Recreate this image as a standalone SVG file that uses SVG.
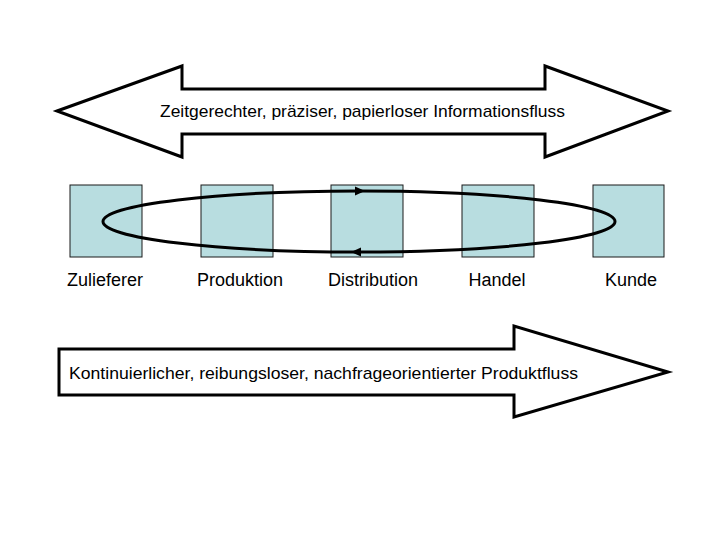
<svg xmlns="http://www.w3.org/2000/svg" width="720" height="540" viewBox="0 0 720 540">
<style>
.bg{fill:#ffffff}
.arrow{fill:#ffffff;stroke:#000000;stroke-width:3;stroke-linejoin:miter}
.box{fill:#b8dde0;stroke:#1a1a1a;stroke-width:1}
.lbl{font-family:"Liberation Sans",Arial,sans-serif;font-size:18px;fill:#000000}
.atext{font-family:"Liberation Sans",Arial,sans-serif;font-size:17px;fill:#000000}
.loop{fill:none;stroke:#000000;stroke-width:3}
.head{fill:#000000}
</style>
<rect class="bg" x="0" y="0" width="720" height="540"/>
<g id="info-arrow">
<path class="arrow" d="M57,111 L182,66 L182,89 L545,89 L545,66 L668,111 L545,157 L545,134 L182,134 L182,157 Z"/>
<text class="atext" x="160" y="117" textLength="405" lengthAdjust="spacingAndGlyphs">Zeitgerechter, präziser, papierloser Informationsfluss</text>
</g>
<g id="zulieferer">
<rect class="box" x="70" y="185" width="72" height="72"/>
<text class="lbl" x="105" y="286" text-anchor="middle">Zulieferer</text>
</g>
<g id="produktion">
<rect class="box" x="201" y="185" width="72" height="72"/>
<text class="lbl" x="240" y="286" text-anchor="middle">Produktion</text>
</g>
<g id="distribution">
<rect class="box" x="331" y="185" width="72" height="72"/>
<text class="lbl" x="373" y="286" text-anchor="middle">Distribution</text>
</g>
<g id="handel">
<rect class="box" x="462" y="185" width="72" height="72"/>
<text class="lbl" x="497" y="286" text-anchor="middle">Handel</text>
</g>
<g id="kunde">
<rect class="box" x="593" y="185" width="71" height="72"/>
<text class="lbl" x="631" y="286" text-anchor="middle">Kunde</text>
</g>
<g id="connectors">
<ellipse class="loop" cx="359" cy="221.5" rx="256" ry="30.5"/>
<path class="head" d="M365,191 L355,186.5 L355,195.5 Z"/>
<path class="head" d="M351,252 L361,247.5 L361,256.5 Z"/>
</g>
<g id="product-arrow">
<path class="arrow" d="M59,349 L514,349 L514,326 L668,372 L514,417 L514,395 L59,395 Z"/>
<text class="atext" x="69" y="379" textLength="509" lengthAdjust="spacingAndGlyphs">Kontinuierlicher, reibungsloser, nachfrageorientierter Produktfluss</text>
</g>
</svg>
